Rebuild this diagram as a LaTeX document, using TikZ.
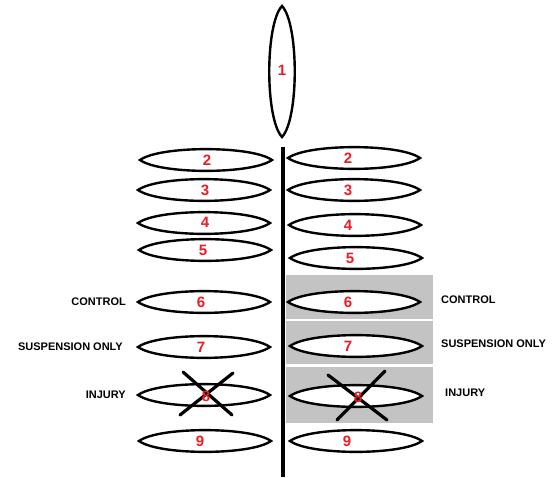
\documentclass[tikz,border=0pt]{standalone}
\usepackage{fontspec}
\setmainfont{Liberation Sans}
\usepackage{tikz}
\definecolor{paintred}{RGB}{237,28,36}
\definecolor{paintgrey}{RGB}{195,195,195}

\begin{document}
\begin{tikzpicture}[x=1pt,y=-1pt,
    disc/.style={draw,fill=white,line width=2.4pt,line join=miter},
    num/.style={text=paintred,font=\bfseries\fontsize{15}{15}\selectfont,inner sep=0pt},
    tag/.style={font=\bfseries\fontsize{11}{11}\selectfont,inner sep=0pt},
    cross/.style={line width=3.2pt,line cap=round}]
    \useasboundingbox (0,0) rectangle (552,477);
    % grey panels on the right
    \fill[paintgrey] (286,275) rectangle (433,319);
    \fill[paintgrey] (286,321) rectangle (433,364);
    \fill[paintgrey] (286,367) rectangle (433,423);
    % axis
    \coordinate (top) at (283,147);
    \coordinate (bot) at (283,477);
    \draw[line width=3.6pt] (top) -- (bot);
    % disc 1
    \draw[disc] (282,6) .. controls (299,24) and (299,119) .. (282,137)
        .. controls (265,119) and (265,24) .. cycle;
    \node[num] (1) at (282,70) {1};
    % left stack
    \foreach \n/\cx/\cy in {2/206/160,3/204/190,4/204/223,5/205/250,
        6/204/302,7/204/347,8/204/395,9/205/441}
      \draw[disc] (\cx-66,\cy) .. controls (\cx-46,\cy-14.5) and (\cx+46,\cy-14.5) .. (\cx+66,\cy)
          .. controls (\cx+46,\cy+14.5) and (\cx-46,\cy+14.5) .. cycle;
    % right stack
    \foreach \n/\cx/\cy in {2/354/158,3/354/190,4/355/225,5/356/258,
        6/354/302,7/356/346,8/356/396,9/356/441}
      \draw[disc] (\cx-66,\cy) .. controls (\cx-46,\cy-14.5) and (\cx+46,\cy-14.5) .. (\cx+66,\cy)
          .. controls (\cx+46,\cy+14.5) and (\cx-46,\cy+14.5) .. cycle;
    % crossed out
    \draw[cross] (183,372) -- (232,415);
    \draw[cross] (233,373) -- (180,415);
    \draw[cross] (328,375) -- (387,420);
    \draw[cross] (385,371) -- (337,420);
    % numbers
    \foreach \n/\tx/\cy in {2/207/160,3/205/190,4/205/222,5/203/250,
        6/201/302,7/201/347,8/206/396,9/200/441}
      \node[num] (l\n) at (\tx,\cy) {\n};
    \foreach \n/\tx/\cy in {2/348/158,3/348/190,4/348/225,5/350/258,
        6/348/302,7/348/346,8/358/397,9/347/441}
      \node[num] (r\n) at (\tx,\cy) {\n};
    % group names
    \node[tag,anchor=east] (lcontrol) at (126,302) {CONTROL};
    \node[tag,anchor=east] (lsusp) at (123,347) {SUSPENSION ONLY};
    \node[tag,anchor=east] (linjury) at (126,395) {INJURY};
    \node[tag,anchor=west] (rcontrol) at (441,300) {CONTROL};
    \node[tag,anchor=west] (rsusp) at (441,344) {SUSPENSION ONLY};
    \node[tag,anchor=west] (rinjury) at (445,393) {INJURY};
\end{tikzpicture}
\end{document}
